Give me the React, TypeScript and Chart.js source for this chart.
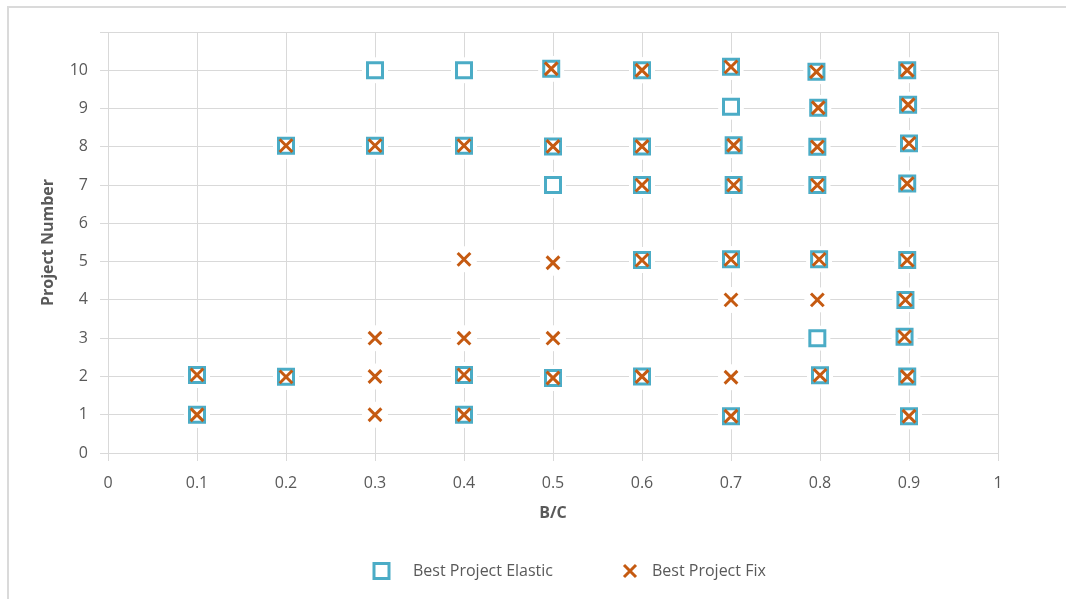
import { useEffect, useRef } from 'react';
import { Chart, registerables } from 'chart.js';

Chart.register(...registerables);

// ---- data ----
const seriesNames = ['Best Project Elastic', 'Best Project Fix'];
const xTitle = 'B/C';
const yTitle = 'Project Number';
const xTickLabels = ['0', '0.1', '0.2', '0.3', '0.4', '0.5', '0.6', '0.7', '0.8', '0.9', '1'];
const yTickLabels = ['0', '1', '2', '3', '4', '5', '6', '7', '8', '9', '10'];

const elasticX = [
  0.1, 0.1, 0.2, 0.2, 0.3, 0.3, 0.4, 0.4, 0.4, 0.4,
  0.5, 0.5, 0.5, 0.498, 0.6, 0.6, 0.6, 0.6, 0.6,
  0.7, 0.7, 0.703, 0.703, 0.7, 0.7,
  0.8, 0.797, 0.799, 0.797, 0.797, 0.798, 0.796,
  0.9, 0.898, 0.895, 0.896, 0.898, 0.898, 0.9, 0.899, 0.898,
];
const elasticY = [
  1, 2.04, 1.99, 8.03, 8.03, 10, 1, 2.04, 8.03, 10,
  1.96, 7, 8.01, 10.04, 2, 5.04, 7, 8.01, 10,
  0.96, 5.06, 7, 8.04, 9.05, 10.09,
  2.03, 3, 5.06, 7, 8, 9.02, 9.96,
  0.96, 2, 3.04, 4, 5.04, 7.04, 8.09, 9.1, 10,
];
const fixX = [
  0.1, 0.1, 0.2, 0.2, 0.3, 0.3, 0.3, 0.3, 0.4, 0.4, 0.4, 0.4, 0.4,
  0.5, 0.5, 0.5, 0.5, 0.498, 0.6, 0.6, 0.6, 0.6, 0.6,
  0.7, 0.7, 0.7, 0.7, 0.703, 0.703, 0.7,
  0.8, 0.797, 0.799, 0.797, 0.797, 0.798, 0.796,
  0.9, 0.898, 0.895, 0.896, 0.898, 0.898, 0.9, 0.899, 0.898,
];
const fixY = [
  1, 2.04, 1.99, 8.03, 1, 2, 3, 8.03, 1, 2.04, 3, 5.06, 8.03,
  1.96, 3, 4.97, 8.01, 10.04, 2, 5.04, 7, 8.01, 10,
  0.96, 1.98, 4, 5.06, 7, 8.04, 10.09,
  2.03, 4, 5.06, 7, 8, 9.02, 9.96,
  0.96, 2, 3.04, 4, 5.04, 7.04, 8.09, 9.1, 10,
];

// ---- styles ----
const FONT = "'Open Sans', 'DejaVu Sans', sans-serif";
const TEXT = '#595959';
const GRID = '#D9D9D9';
const TEAL = '#4BACC6';
const ORANGE = '#C55A11';

const legendPlugin = {
  id: 'excelLegend',
  afterDraw(chart: any) {
    const ctx = chart.ctx as CanvasRenderingContext2D;
    const cy = 571;
    ctx.save();
    // item 1: square
    const sx = 381.5;
    ctx.lineWidth = 3;
    ctx.strokeStyle = TEAL;
    ctx.fillStyle = '#ffffff';
    ctx.beginPath();
    ctx.rect(sx - 7.5, cy - 7.5, 15, 15);
    ctx.fill();
    ctx.stroke();
    ctx.font = `16px ${FONT}`;
    ctx.fillStyle = TEXT;
    ctx.textBaseline = 'alphabetic';
    ctx.textAlign = 'left';
    ctx.fillText(seriesNames[0], 413, 576);
    // item 2: x
    const xx = 630;
    ctx.strokeStyle = ORANGE;
    ctx.lineWidth = 3;
    ctx.beginPath();
    ctx.moveTo(xx - 6, cy - 6);
    ctx.lineTo(xx + 6, cy + 6);
    ctx.moveTo(xx + 6, cy - 6);
    ctx.lineTo(xx - 6, cy + 6);
    ctx.stroke();
    ctx.fillStyle = TEXT;
    ctx.fillText(seriesNames[1], 652, 576);
    ctx.restore();
  },
};

export default function App() {
  const ref = useRef<HTMLCanvasElement>(null);

  useEffect(() => {
    const elasticPts = elasticX.map((x, i) => ({ x, y: elasticY[i] }));
    const fixPts = fixX.map((x, i) => ({ x, y: fixY[i] }));
    const chart = new Chart(ref.current as HTMLCanvasElement, {
      type: 'scatter',
      data: {
        datasets: [
          {
            label: seriesNames[1],
            data: fixPts,
            pointStyle: 'crossRot',
            pointRadius: 9,
            pointBorderWidth: 3,
            borderWidth: 3,
            pointBorderColor: ORANGE,
            borderColor: ORANGE,
            backgroundColor: ORANGE,
            order: 1,
          },
          {
            label: seriesNames[0],
            data: elasticPts,
            pointStyle: 'rect',
            pointRadius: 10.6,
            pointBorderWidth: 3,
            borderWidth: 3,
            pointBorderColor: TEAL,
            borderColor: TEAL,
            pointBackgroundColor: '#ffffff',
            backgroundColor: '#ffffff',
            order: 2,
          },
          {
            label: 'halo-elastic',
            data: elasticPts,
            pointStyle: 'circle',
            pointRadius: 13,
            pointBorderWidth: 0,
            pointBackgroundColor: '#ffffff',
            order: 3,
          },
          {
            label: 'halo-fix',
            data: fixPts,
            pointStyle: 'circle',
            pointRadius: 13,
            pointBorderWidth: 0,
            pointBackgroundColor: '#ffffff',
            order: 3,
          },
        ],
      },
      options: {
        animation: false,
        responsive: false,
        devicePixelRatio: 1,
        events: [],
        layout: { padding: { left: 0, top: 32, right: 68, bottom: 0 } },
        plugins: {
          legend: { display: false },
          tooltip: { enabled: false },
        },
        scales: {
          x: {
            type: 'linear',
            min: 0,
            max: 1,
            ticks: {
              stepSize: 0.1,
              padding: 13,
              color: TEXT,
              font: { family: FONT, size: 16 },
              autoSkip: false,
              maxRotation: 0,
              callback: (_v: any, i: number) => xTickLabels[i] ?? '',
            },
            grid: { color: GRID, lineWidth: 1, tickLength: 8 },
            border: { color: GRID, width: 1 },
            title: {
              display: true,
              text: xTitle,
              color: TEXT,
              font: { family: FONT, size: 16, weight: 'bold' },
              padding: { top: -2, bottom: 75.6 },
            },
          },
          y: {
            type: 'linear',
            min: 0,
            max: 11,
            ticks: {
              stepSize: 1,
              padding: 12,
              color: TEXT,
              font: { family: FONT, size: 16 },
              autoSkip: false,
              callback: (_v: any, i: number) => yTickLabels[i] ?? '',
            },
            grid: { color: GRID, lineWidth: 1, tickLength: 8 },
            border: { color: GRID, width: 1 },
            title: {
              display: true,
              text: yTitle,
              color: TEXT,
              font: { family: FONT, size: 16, weight: 'bold' },
              padding: { top: 38.4, bottom: 0 },
            },
            afterFit: (scale: any) => {
              scale.width = 108;
            },
          },
        },
      } as any,
      plugins: [legendPlugin],
    });
    return () => chart.destroy();
  }, []);

  return (
    <div
      style={{
        position: 'fixed',
        left: 0,
        top: 0,
        width: 1066,
        height: 599,
        overflow: 'hidden',
        background: '#ffffff',
      }}
    >
      <div
        style={{
          position: 'absolute',
          left: 7,
          top: 6,
          width: 1200,
          height: 800,
          border: '2px solid #DADADA',
          boxSizing: 'border-box',
        }}
      />
      <canvas
        ref={ref}
        width={1066}
        height={599}
        style={{ position: 'absolute', left: 0, top: 0, width: 1066, height: 599 }}
      />
    </div>
  );
}
